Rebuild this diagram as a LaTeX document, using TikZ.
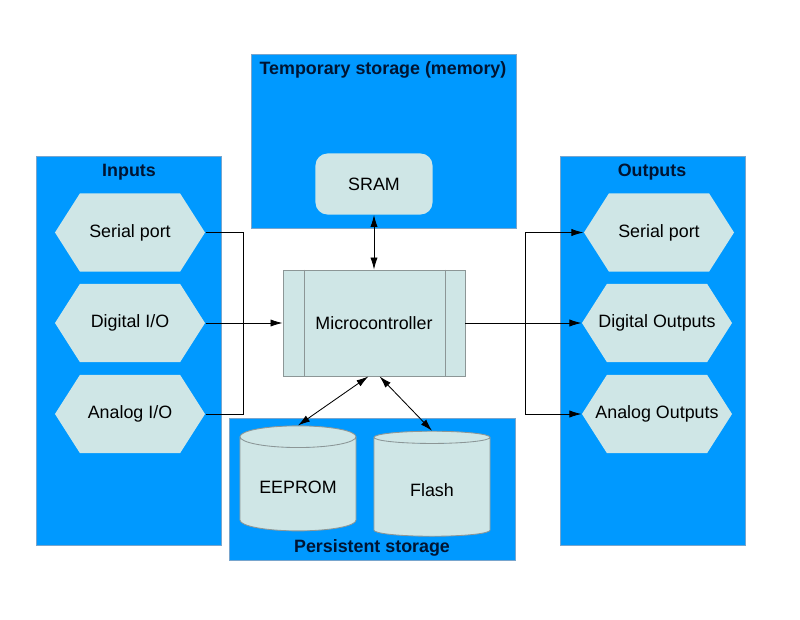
\documentclass[tikz,border=0pt]{standalone}
\usepackage{fontspec}
\setmainfont{Liberation Sans}
\usetikzlibrary{shapes.geometric,shapes.symbols,arrows.meta}

\definecolor{panelblue}{RGB}{0,153,255}
\definecolor{panelline}{RGB}{120,165,205}
\definecolor{boxfill}{RGB}{207,230,230}
\definecolor{boxline}{RGB}{140,150,150}
\definecolor{titlenavy}{RGB}{0,20,50}
\newcommand{\diagfont}{\fontsize{12.7}{15}\selectfont}

\begin{document}
\begin{tikzpicture}[x=0.025cm,y=-0.025cm,line width=0.6pt,
    panel/.style={draw=panelline,fill=panelblue,inner sep=0pt},
    title/.style={font=\bfseries\diagfont,text=titlenavy},
    port/.style={signal,signal to=east and west,signal pointer angle=115,
      fill=boxfill,minimum width=3.75cm,minimum height=1.95cm,inner sep=0pt,font=\diagfont},
    store/.style={cylinder,shape border rotate=90,aspect=0.28,draw=boxline,
      cylinder uses custom fill,cylinder body fill=boxfill,cylinder end fill=boxfill,
      minimum width=2.9cm,minimum height=2.625cm,inner sep=0pt,font=\diagfont,
      text height=0.45cm,text depth=0pt},
    link/.style={-{Latex[length=3mm,width=1.8mm]}},
    both/.style={{Latex[length=3mm,width=1.8mm]}-{Latex[length=3mm,width=1.8mm]}}]
    \useasboundingbox (0,0) rectangle (800,619);

    % panels
    \node[panel,minimum width=4.625cm,minimum height=9.725cm] (inputs)  at (128.5,350.5) {};
    \node[panel,minimum width=6.625cm,minimum height=4.35cm]  (memory)  at (383.5,141) {};
    \node[panel,minimum width=4.625cm,minimum height=9.725cm] (outputs) at (652.5,350.5) {};
    \node[panel,minimum width=7.15cm,minimum height=3.55cm]   (persist) at (372,489) {};

    \node[title] (tin)  at (129,172) {Inputs};
    \node[title] (tmem) at (383,70)  {Temporary storage (memory)};
    \node[title] (tout) at (652,172) {Outputs};
    \node[title] (tper) at (372,548) {Persistent storage};

    % inputs and outputs
    \node[port] (in1) at (130,232.5) {Serial port};
    \node[port] (in2) at (130,323) {Digital I/O};
    \node[port] (in3) at (130,414) {Analog I/O};

    \node[port] (out1) at (659,232.5) {Serial port};
    \node[port,inner xsep=-9pt] (out2) at (657,323) {Digital Outputs};
    \node[port,inner xsep=-9pt] (out3) at (657,414) {Analog Outputs};

    % core and storage
    \node[fill=boxfill,rounded corners=0.3cm,minimum width=2.925cm,minimum height=1.525cm,
      font=\diagfont] (sram) at (374,184) {SRAM};
    \node[fill=boxfill,draw=boxline,minimum width=4.55cm,minimum height=2.65cm,
      font=\diagfont] (mc) at (374,323) {Microcontroller};
    \draw[boxline] ([xshift=0.55cm]mc.north west) -- ([xshift=0.55cm]mc.south west);
    \draw[boxline] ([xshift=-0.5cm]mc.north east) -- ([xshift=-0.5cm]mc.south east);

    \node[store] (eeprom) at (298,484) {EEPROM};
    \node[store] (flash)  at (432,487) {Flash};

    % connectors
    \coordinate (jin)  at (243,323);
    \coordinate (jout) at (525,323);
    \draw (in1.east) -| (jin);
    \draw (in3.east) -| (jin);
    \draw (in2.east) -- (jin);
    \draw[link] (jin) -- (mc.west);

    \draw (mc.east) -- (jout);
    \draw[link] (jout) |- (out1.west);
    \draw[link] (jout) |- (out2.west);
    \draw[link] (jout) |- (out3.west);

    \draw[both] (sram.south) -- (mc.north);
    \draw[both] ([xshift=-4pt]mc.south) -- (eeprom.north);
    \draw[both] ([xshift=4pt]mc.south) -- (flash.north);
  \end{tikzpicture}
\end{document}
